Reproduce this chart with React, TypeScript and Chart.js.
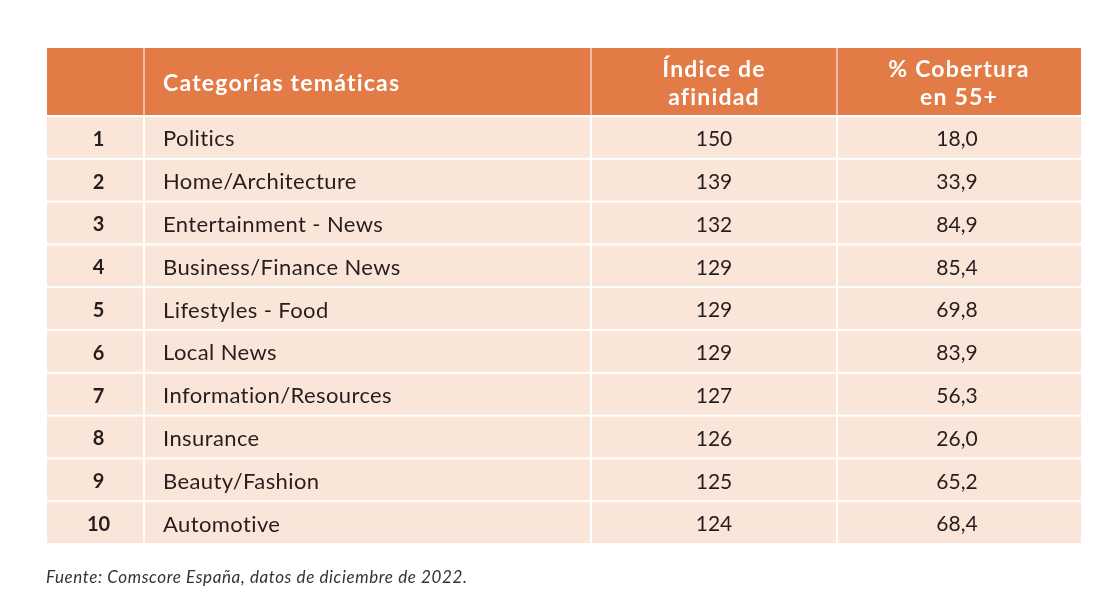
import React, { useEffect, useRef } from "react";
import { Chart, registerables } from "chart.js";

Chart.register(...registerables);

const headerLabels = ["", "Categorías temáticas", "Índice de\nafinidad", "% Cobertura\nen 55+"];
const ranks = ["1", "2", "3", "4", "5", "6", "7", "8", "9", "10"];
const categories = [
  "Politics",
  "Home/Architecture",
  "Entertainment - News",
  "Business/Finance News",
  "Lifestyles - Food",
  "Local News",
  "Information/Resources",
  "Insurance",
  "Beauty/Fashion",
  "Automotive",
];
const affinity = [150, 139, 132, 129, 129, 129, 127, 126, 125, 124];
const coverage = [18.0, 33.9, 84.9, 85.4, 69.8, 83.9, 56.3, 26.0, 65.2, 68.4];
const footnote = "Fuente: Comscore España, datos de diciembre de 2022.";

// layout (in x-scale units = px widths of columns)
const COL_EDGES = [0, 97, 544, 790, 1034];
const HEADER_UNITS = 68 / 42.8;

const FONT = "Lato, 'Open Sans', sans-serif";
const ORANGE = "#E27B45";
const ROW_BG = "#FAE5D9";
const TEXT = "#261E1C";

const fmt = (v: number) => v.toFixed(1).replace(".", ",");

const tablePlugin = {
  id: "tablePlugin",
  beforeDatasetsDraw(chart: any) {
    const { ctx } = chart;
    const xs = chart.scales.x;
    const ys = chart.scales.y;
    const colPx = COL_EDGES.map((e) => xs.getPixelForValue(e));
    ctx.save();
    // header cells
    const hTop = ys.getPixelForValue(-HEADER_UNITS);
    const hBot = ys.getPixelForValue(0);
    for (let c = 0; c < 4; c++) {
      ctx.fillStyle = ORANGE;
      const l = colPx[c] + (c === 0 ? 0 : 0.5);
      const r = colPx[c + 1] - (c === 3 ? 0 : 0.5);
      ctx.fillRect(l, hTop, r - l, hBot - hTop - 1);
    }
    // body cells
    for (let i = 0; i < ranks.length; i++) {
      const top = ys.getPixelForValue(i);
      const bot = ys.getPixelForValue(i + 1);
      for (let c = 0; c < 4; c++) {
        ctx.fillStyle = ROW_BG;
        const l = colPx[c] + (c === 0 ? 0 : 1);
        const r = colPx[c + 1] - (c === 3 ? 0 : 1);
        ctx.fillRect(l, top + 1, r - l, bot - top - 2);
      }
    }
    // header text
    ctx.fillStyle = "#FFFFFF";
    ctx.font = `bold 23px ${FONT}`;
    (ctx as any).letterSpacing = "1.2px";
    ctx.textBaseline = "middle";
    const hMid = (hTop + hBot) / 2 + 2;
    headerLabels.forEach((lab, c) => {
      if (!lab) return;
      const lines = lab.split("\n");
      const lh = 28;
      lines.forEach((ln, k) => {
        const y = hMid + (k - (lines.length - 1) / 2) * lh;
        if (c === 1) {
          ctx.textAlign = "left";
          ctx.fillText(ln, colPx[1] + 19, y);
        } else {
          ctx.textAlign = "center";
          ctx.fillText(ln, (colPx[c] + colPx[c + 1]) / 2, y);
        }
      });
    });
    // body text
    for (let i = 0; i < ranks.length; i++) {
      const y = ys.getPixelForValue(i + 0.5) + 2;
      ctx.fillStyle = TEXT;
      (ctx as any).letterSpacing = "0px";
      ctx.font = `bold 20px ${FONT}`;
      ctx.textAlign = "center";
      ctx.fillText(ranks[i], (colPx[0] + colPx[1]) / 2 + 3, y);
      ctx.font = `21px ${FONT}`;
      ctx.fillText(String(affinity[i]), (colPx[2] + colPx[3]) / 2, y);
      ctx.fillText(fmt(coverage[i]), (colPx[3] + colPx[4]) / 2 - 2, y);
      ctx.font = `22px ${FONT}`;
      (ctx as any).letterSpacing = "0.4px";
      ctx.textAlign = "left";
      ctx.fillText(categories[i], colPx[1] + 19, y);
    }
    // footnote
    ctx.fillStyle = "#333333";
    ctx.font = `italic 17px ${FONT}`;
    (ctx as any).letterSpacing = "0.6px";
    ctx.textAlign = "left";
    ctx.fillText(footnote, chart.chartArea.left - 1, chart.chartArea.bottom + 34);
    ctx.restore();
  },
};

export default function App() {
  const ref = useRef<HTMLCanvasElement | null>(null);
  useEffect(() => {
    document.body.style.margin = "0";
    const chart = new Chart(ref.current as HTMLCanvasElement, {
      type: "scatter",
      data: {
        datasets: [
          {
            data: ranks.map((_, i) => ({ x: COL_EDGES[0], y: i + 0.5 })),
            pointRadius: 0,
            showLine: false,
          },
        ],
      },
      options: {
        animation: false,
        responsive: false,
        events: [],
        layout: { padding: { left: 47, right: 35, top: 48, bottom: 60 } },
        plugins: { legend: { display: false }, tooltip: { enabled: false } },
        scales: {
          x: { type: "linear", min: 0, max: COL_EDGES[4], display: false },
          y: { type: "linear", min: -HEADER_UNITS, max: ranks.length, reverse: true, display: false },
        },
      },
      plugins: [tablePlugin],
    });
    return () => chart.destroy();
  }, []);
  return (
    <div style={{ position: "fixed", left: 0, top: 0, width: 1116, height: 604, background: "#fff" }}>
      <canvas ref={ref} width={1116} height={604} />
    </div>
  );
}
